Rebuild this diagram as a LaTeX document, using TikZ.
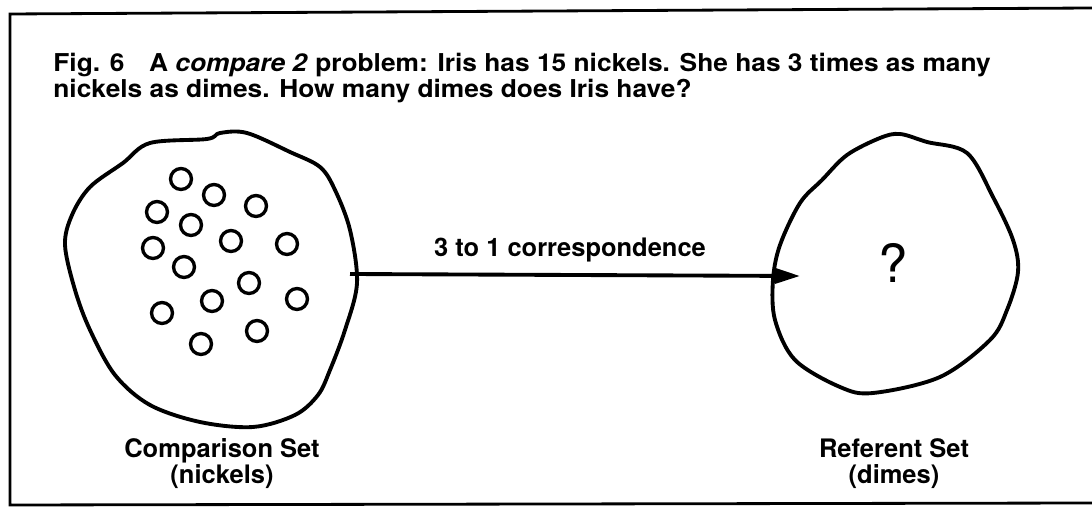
\documentclass[tikz,border=0pt]{standalone}
\usepackage{fontspec}
\setmainfont{TeX Gyre Heros}
\newfontfamily\capfont[FakeStretch=1.07]{TeX Gyre Heros}
\usepackage{tikz}
\usetikzlibrary{arrows.meta}

\tikzset{
  setline/.style={line width=2.2pt, line join=round},
  coin/.style={circle, draw, line width=1.9pt, minimum size=0.42cm, inner sep=0pt},
  corr/.style={line width=2.2pt, -{Triangle[length=0.5cm, width=0.3cm]}},
  titletext/.style={anchor=base west, inner sep=0pt, font=\capfont\fontsize{14}{16}\selectfont\bfseries},
  setlabel/.style={anchor=base, inner sep=0pt, font=\fontsize{14.5}{17}\selectfont\bfseries}
}

\begin{document}
\begin{tikzpicture}[x=0.02cm, y=-0.02cm]
\useasboundingbox (0,0) rectangle (1092,509);

% frame
\draw[line width=1.6pt] (1092,8)--(10,14)--(10,505)--(1092,503);

% caption
\node[titletext] (title1) at (53,72) {Fig. 6\quad A \textit{compare 2} problem: Iris has 15 nickels. She has 3 times as many};
\node[titletext] (title2) at (53,98) {nickels as dimes. How many dimes does Iris have?};

% comparison set
\draw[setline] plot[smooth cycle, tension=0.55] coordinates {
  (150,143) (207,139) (220,133) (247,133) (290,152) (320,167) (335,190)
  (350,230) (357,283) (345,330) (330,370) (318,395) (295,415) (253,427)
  (200,422) (150,405) (115,375) (90,330) (75,290) (65,245) (72,215)
  (90,187) (123,163)};
\node[coin] (c1) at (181,179) {};
\node[coin] (c2) at (214,195) {};
\node[coin] (c3) at (256,206) {};
\node[coin] (c4) at (157,212) {};
\node[coin] (c5) at (191,225) {};
\node[coin] (c6) at (231,241) {};
\node[coin] (c7) at (287,244) {};
\node[coin] (c8) at (153,248) {};
\node[coin] (c9) at (184,267) {};
\node[coin] (c10) at (249,283) {};
\node[coin] (c11) at (297,299) {};
\node[coin] (c12) at (212,301) {};
\node[coin] (c13) at (162,313) {};
\node[coin] (c14) at (257,331) {};
\node[coin] (c15) at (201,344) {};
\node[setlabel] (cmplabel) at (222,458) {Comparison Set};
\node[setlabel] (cmpsub) at (222,484) {(nickels)};

% referent set
\draw[setline] plot[smooth cycle, tension=0.55] coordinates {
  (900,134) (927,142) (967,153) (993,197) (1013,240) (1018,272)
  (1007,310) (990,340) (940,377) (873,393) (840,387) (795,360)
  (775,320) (773,280) (780,245) (800,203) (822,180) (847,155) (880,138)};
\node[inner sep=0pt, font=\fontsize{30}{32}\selectfont] (unknown) at (893,263) {?};
\node[setlabel] (reflabel) at (894,458) {Referent Set};
\node[setlabel] (refsub) at (894,484) {(dimes)};

% correspondence
\coordinate (cmpedge) at (350,274);
\coordinate (reftip) at (800,276);
\draw[corr] (cmpedge) -- (reftip);
\node[setlabel] (corrlabel) at (570,257) {3 to 1 correspondence};

\end{tikzpicture}
\end{document}
